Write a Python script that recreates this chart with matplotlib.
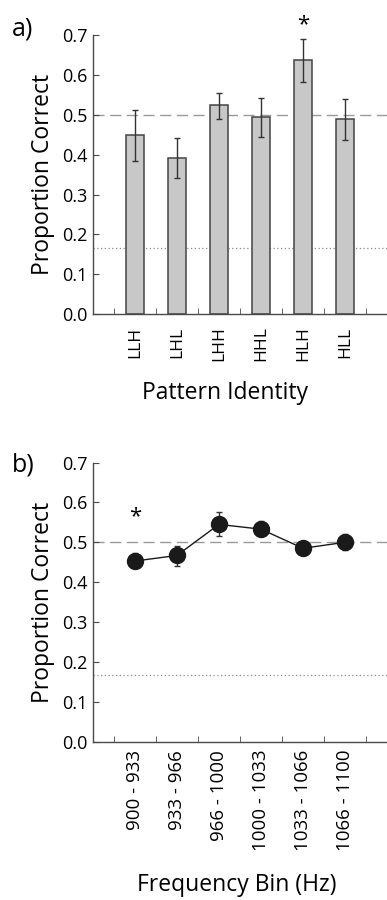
import matplotlib as mpl
mpl.use('Agg')
import matplotlib.pyplot as plt
import numpy as np

plt.rcParams['font.family'] = ['Open Sans', 'DejaVu Sans']

# panel a: proportion correct per pitch pattern
patterns = ["LLH", "LHL", "LHH", "HHL", "HLH", "HLL"]
pattern_mean = [0.450, 0.392, 0.524, 0.495, 0.637, 0.490]
pattern_lo = [0.385, 0.342, 0.490, 0.445, 0.583, 0.437]
pattern_hi = [0.512, 0.443, 0.555, 0.543, 0.690, 0.540]
pattern_sig = [False, False, False, False, True, False]

# panel b: proportion correct per frequency bin
freq_bins = ["900 - 933", "933 - 966", "966 - 1000",
             "1000 - 1033", "1033 - 1066", "1066 - 1100"]
freq_mean = [0.453, 0.467, 0.545, 0.533, 0.485, 0.500]
freq_lo = [0.435, 0.440, 0.515, 0.515, 0.468, 0.480]
freq_hi = [0.472, 0.490, 0.575, 0.553, 0.502, 0.520]
freq_sig = [True, False, False, False, False, False]

chance_pair = 0.5
chance_six = 1.0 / 6

axis_col = '#4a4a4a'


def style_axis(ax, xpad):
    ax.spines['top'].set_visible(False)
    ax.spines['right'].set_visible(False)
    for s in ('left', 'bottom'):
        ax.spines[s].set_color(axis_col)
        ax.spines[s].set_linewidth(1.0)
    ax.set_ylim(0, 0.7)
    ax.set_xlim(0, 7)
    ax.set_yticks(np.arange(0, 0.71, 0.1))
    ax.set_yticklabels(["%.1f" % v for v in np.arange(0, 0.71, 0.1)])
    ax.tick_params(axis='y', direction='in', length=4, color=axis_col,
                   labelsize=13, pad=4)
    ax.tick_params(axis='x', which='minor', direction='in', length=4,
                   color=axis_col)
    ax.tick_params(axis='x', which='major', length=0, pad=xpad)
    ax.set_xticks(np.arange(0.5, 7, 1.0), minor=True)
    ax.axhline(chance_pair, color='#9a9a9a', lw=1.0, dashes=(8, 4), zorder=0)
    ax.axhline(chance_six, color='#8a8a8a', lw=0.9, dashes=(1, 2), zorder=0)
    ax.set_ylabel("Proportion Correct", fontsize=16.5, labelpad=5)


fig = plt.figure(figsize=(3.87, 9.0), dpi=100)
ax1 = fig.add_axes([0.240, 0.651, 0.760, 0.310])
ax2 = fig.add_axes([0.240, 0.176, 0.760, 0.310])

x = np.arange(1, len(patterns) + 1)

# bars with asymmetric error bars
style_axis(ax1, 9)
m = np.array(pattern_mean)
err = [m - np.array(pattern_lo), np.array(pattern_hi) - m]
ax1.bar(x, m, width=0.41, color='#c8c8c8', edgecolor='#444444', linewidth=1.1,
        zorder=2)
ax1.errorbar(x, m, yerr=err, fmt='none', ecolor='#333333', elinewidth=1.0,
             capsize=2.5, capthick=1.0, zorder=3)
for xi, hi, s in zip(x, pattern_hi, pattern_sig):
    if s:
        ax1.text(xi, hi + 0.035, "*", ha='center', va='center', fontsize=16,
                 clip_on=False)
ax1.set_xticks(x)
ax1.set_xticklabels(patterns, rotation=90, fontsize=12.5)
ax1.set_xlabel("Pattern Identity", fontsize=16.5)
ax1.xaxis.set_label_coords(0.45, -0.24)
fig.text(0.03, 0.968, "a)", fontsize=18, va='center', ha='left')

# line plot with markers
style_axis(ax2, 6)
fm = np.array(freq_mean)
ferr = [fm - np.array(freq_lo), np.array(freq_hi) - fm]
ax2.errorbar(x, fm, yerr=ferr, fmt='o-', color='#1a1a1a', ecolor='#333333',
             markersize=11.5, linewidth=1.0, elinewidth=1.0, capsize=2.0,
             capthick=1.0, zorder=3)
for xi, hi, s in zip(x, freq_hi, freq_sig):
    if s:
        ax2.text(xi, 0.565, "*", ha='center', va='center', fontsize=16)
ax2.set_xticks(x)
ax2.set_xticklabels(freq_bins, rotation=90, fontsize=13.5)
ax2.set_xlabel("Frequency Bin (Hz)", fontsize=16.5)
ax2.xaxis.set_label_coords(0.49, -0.47)
fig.text(0.03, 0.483, "b)", fontsize=18, va='center', ha='left')

fig.savefig("out.png", dpi=100)
